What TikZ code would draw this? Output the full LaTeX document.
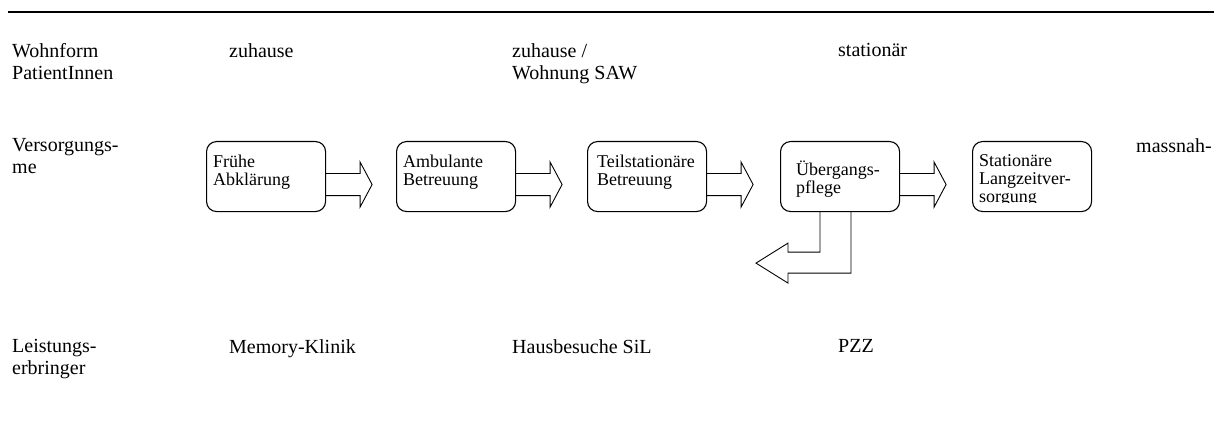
\documentclass[tikz,border=0pt]{standalone}
\usepackage{fontspec}
\setmainfont{Liberation Serif}
\usetikzlibrary{positioning}

\begin{document}
\begin{tikzpicture}[
	x=1pt, y=-1pt
	,lbl/.style={anchor=north west, inner sep=0pt, align=left, font=\fontsize{20}{22}\selectfont}
	,stage/.style={draw, rounded corners=10pt, line width=1.1pt, minimum width=119pt, minimum height=70pt, anchor=north west, inner sep=0pt}
	,stagetext/.style={inner sep=0pt, align=left, font=\fontsize{18}{18}\selectfont}
	,fat/.style={draw, line width=.9pt, line join=miter}
]
	\useasboundingbox (0,0) rectangle (1214,422);
	\draw[line width=2pt] (8,12) -- (1214,12);

	\node[lbl] (wohnform) at (12,43.5) {Wohnform\\PatientInnen};
	\node[lbl] (zuhause) at (229,43.5) {zuhause};
	\node[lbl] (zuhausesaw) at (512,43.5) {zuhause /\\Wohnung SAW};
	\node[lbl] (stationaer) at (838,43.5) {stationär};

	\node[lbl] (versorgung) at (12,138) {Versorgungs-\\me};
	\node[lbl] (massnahmen) at (1136,138) {massnah-};

	\node[lbl] (leistung) at (12,339) {Leistungs-\\erbringer};
	\node[lbl] (memory) at (229,339) {Memory-Klinik};
	\node[lbl] (hausbesuche) at (512,339) {Hausbesuche SiL};
	\node[lbl] (pzz) at (838,339) {PZZ};

	\node[stage] (abklaerung) at (206,141) {};
	\node[stage] (ambulant) at (396,141) {};
	\node[stage] (teilstat) at (587,141) {};
	\node[stage] (uebergang) at (780,141) {};
	\node[stage] (langzeit) at (972,141) {};

	\node[stagetext, below right=13.5pt and 7pt of abklaerung.north west] (abklaerungtext) {Frühe\\Abklärung};
	\node[stagetext, below right=13.5pt and 7pt of ambulant.north west] (ambulanttext) {Ambulante\\Betreuung};
	\node[stagetext, below right=13.5pt and 10pt of teilstat.north west] (teilstattext) {Teilstationäre\\Betreuung};
	\node[stagetext, below right=20pt and 16pt of uebergang.north west] (uebergangtext) {Übergangs-\\pflege};
	\begin{scope}
		\clip (langzeit.north west) rectangle ([yshift=9.5pt]langzeit.south east);
		\node[stagetext, below right=13.5pt and 7pt of langzeit.north west] (langzeittext) {Stationäre\\Langzeitver-\\sorgung};
	\end{scope}

	% block arrows between the stages
	\foreach \from in {abklaerung,ambulant,teilstat,uebergang}
		\draw[fat] (\from.east) ++(0,-3) -- ++(34,0) -- ++(0,-11.5) -- ++(12,22.5) -- ++(-12,22.5) -- ++(0,-11.5) -- ++(-34,0);

	% way back from Uebergangspflege
	\draw[fat] (uebergang.south west) ++(40,0) -- ++(0,40) -- ++(-32,0) -- ++(0,-9) -- ++(-32,20) -- ++(32,20) -- ++(0,-10) -- ++(63,0) -- ++(0,-61);
\end{tikzpicture}
\end{document}
